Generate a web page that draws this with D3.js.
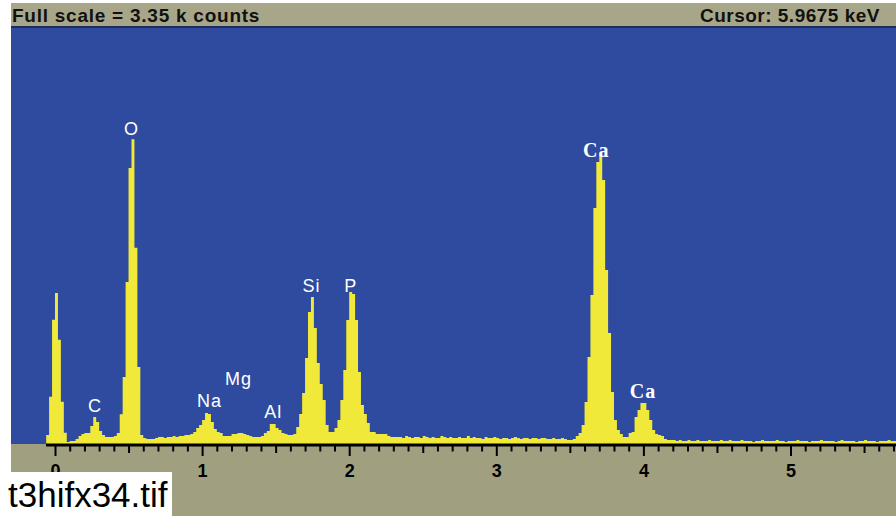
<!DOCTYPE html>
<html>
<head>
<meta charset="utf-8">
<script src="https://cdn.jsdelivr.net/npm/d3@7"></script>
<style>
  html, body { margin: 0; padding: 0; background: #fff; }
  svg { display: block; }
</style>
</head>
<body>
<svg id="chart"></svg>
<script>
// header / footer texts
const fullScaleText = 'Full scale = 3.35 k counts'
const cursorText = 'Cursor: 5.9675 keV'
const fileLabel = 't3hifx34.tif'
const fullScaleCounts = 3350

// spectrum: one value per 0.02 keV channel, starting at -0.30 keV
const channelStartKeV = -0.30
const channelWidthKeV = 0.02
const counts = [
  0, 0, 0, 0, 0, 0, 0, 0, 0, 0,
  0, 0, 72, 380, 1000, 1215, 840, 340, 90, 16,
  24, 24, 40, 64, 80, 88, 88, 145, 217, 177,
  105, 72, 56, 56, 56, 64, 88, 240, 540, 1305,
  2222, 2455, 1580, 620, 72, 48, 40, 40, 40, 48,
  56, 56, 48, 56, 56, 64, 56, 64, 64, 72,
  72, 80, 97, 129, 153, 193, 250, 242, 177, 121,
  97, 89, 64, 64, 64, 80, 80, 89, 89, 80,
  72, 64, 56, 56, 56, 64, 89, 105, 161, 161,
  129, 113, 89, 80, 72, 72, 80, 137, 242, 411,
  693, 1063, 1184, 934, 652, 483, 354, 153, 97, 97,
  129, 193, 354, 596, 999, 1224, 1208, 999, 580, 314,
  242, 169, 97, 97, 80, 80, 80, 80, 64, 56,
  56, 56, 56, 48, 64, 56, 48, 56, 56, 48,
  64, 56, 48, 56, 48, 48, 64, 56, 48, 56,
  48, 48, 56, 48, 48, 64, 48, 56, 48, 48,
  40, 56, 48, 48, 56, 48, 40, 48, 48, 40,
  48, 56, 48, 40, 48, 48, 40, 48, 48, 40,
  48, 48, 40, 40, 48, 40, 40, 48, 40, 32,
  32, 40, 64, 89, 153, 338, 700, 1200, 1900, 2271,
  2327, 2126, 1401, 894, 419, 193, 113, 80, 56, 56,
  89, 97, 217, 274, 330, 330, 274, 193, 113, 80,
  72, 64, 40, 32, 32, 32, 24, 32, 24, 24,
  32, 24, 24, 32, 24, 24, 24, 32, 24, 24,
  24, 32, 24, 24, 32, 24, 24, 24, 32, 24,
  24, 24, 16, 24, 24, 32, 24, 24, 24, 24,
  32, 24, 24, 16, 24, 24, 24, 32, 24, 24,
  24, 16, 24, 24, 24, 32, 24, 24, 24, 24,
  16, 24, 32, 24, 24, 24, 24, 16, 24, 24,
  32, 24, 24, 24, 16, 24, 24, 24, 32, 24,
  24, 16, 24, 24
]

// peak labels
const peakElements = ['O', 'C', 'Na', 'Mg', 'Al', 'Si', 'P', 'Ca', 'Ca']
const peakKeV = [0.52, 0.272, 1.051, 1.247, 1.483, 1.744, 2.01, 3.68, 3.997]
const peakLabelCounts = [2488, 260, 298, 475, 207, 1226, 1226, 2314, 368]

// axis
const axisLabels = ['0', '1', '2', '3', '4', '5']
const tickKeV = d3.range(0, 58).map(i => i / 10)

const width = 896
const height = 516
const left = 11
const plotTop = 28
const axisY = 444
const sans = "'Liberation Sans', Arial, sans-serif"

const svg = d3.select('#chart')
  .attr('width', width)
  .attr('height', height)
  .attr('viewBox', `0 0 ${width} ${height}`)

const x = d3.scaleLinear().domain([0, 5]).range([55, 790.5])
const y = d3.scaleLinear().domain([0, fullScaleCounts]).range([axisY, plotTop])

svg.append('rect')
  .attr('width', width).attr('height', height)
  .attr('fill', '#ffffff')

// header bar
svg.append('rect')
  .attr('x', left).attr('y', 3)
  .attr('width', width - left).attr('height', 24)
  .attr('fill', '#a8a688')
svg.append('rect')
  .attr('x', left).attr('y', 26)
  .attr('width', width - left).attr('height', 2)
  .attr('fill', '#1e2b5c')

svg.append('text')
  .attr('x', 12).attr('y', 22)
  .attr('font-family', sans).attr('font-size', '19px').attr('font-weight', 'bold')
  .attr('letter-spacing', '0.75px')
  .attr('fill', '#111')
  .text(fullScaleText)

svg.append('text')
  .attr('x', 880).attr('y', 22)
  .attr('text-anchor', 'end')
  .attr('font-family', sans).attr('font-size', '19px').attr('font-weight', 'bold')
  .attr('letter-spacing', '0.5px')
  .attr('fill', '#111')
  .text(cursorText)

// plot area
svg.append('rect')
  .attr('x', left).attr('y', plotTop)
  .attr('width', width - left).attr('height', axisY - plotTop)
  .attr('fill', '#2e4b9f')

svg.append('rect')
  .attr('x', left).attr('y', axisY)
  .attr('width', width - left).attr('height', height - axisY)
  .attr('fill', '#a09f80')

svg.append('clipPath').attr('id', 'plotClip')
  .append('rect')
  .attr('x', left).attr('y', plotTop)
  .attr('width', width - left).attr('height', axisY - plotTop)

const spectrum = counts.map((c, i) => ({ e: channelStartKeV + i * channelWidthKeV, c: c }))
spectrum.push({ e: channelStartKeV + counts.length * channelWidthKeV, c: counts[counts.length - 1] })

const area = d3.area()
  .x(d => x(d.e))
  .y0(y(0))
  .y1(d => y(d.c))
  .curve(d3.curveStepAfter)

svg.append('path')
  .datum(spectrum)
  .attr('clip-path', 'url(#plotClip)')
  .attr('d', area)
  .attr('fill', '#f1e93a')

// peak labels
svg.append('g')
  .selectAll('text')
  .data(peakElements)
  .join('text')
  .attr('x', (d, i) => x(peakKeV[i]))
  .attr('y', (d, i) => y(peakLabelCounts[i]))
  .attr('text-anchor', 'middle')
  .attr('fill', '#ffffff')
  .attr('font-family', d => d === 'Ca' ? "'Liberation Serif', 'Times New Roman', serif" : sans)
  .attr('font-weight', d => d === 'Ca' ? 'bold' : 'normal')
  .attr('font-size', d => d === 'Ca' ? '20px' : '18px')
  .attr('letter-spacing', '1px')
  .text(d => d)

// energy axis
const isMajor = d => Math.abs(d - Math.round(d)) < 1e-6
const isHalf = d => Math.round(d * 10) % 10 === 5

const axis = svg.append('g')
  .attr('transform', `translate(0,${axisY})`)
  .call(d3.axisBottom(x)
    .tickValues(tickKeV)
    .tickSizeOuter(0)
    .tickFormat(d => isMajor(d) ? axisLabels[Math.round(d)] : ''))

axis.select('.domain').remove()
axis.selectAll('.tick line')
  .attr('stroke', '#000')
  .attr('stroke-width', 2)
  .attr('y2', d => isMajor(d) ? 12 : isHalf(d) ? 9 : 7.5)
axis.selectAll('.tick text')
  .attr('y', 33)
  .attr('dy', 0)
  .attr('fill', '#000')
  .attr('font-family', sans)
  .attr('font-size', '18px')
  .attr('font-weight', 'bold')

svg.append('rect')
  .attr('x', 46).attr('y', axisY - 0.5)
  .attr('width', width - 46).attr('height', 3)
  .attr('fill', '#000')

// file name tag
svg.append('rect')
  .attr('x', 0).attr('y', 472)
  .attr('width', 172).attr('height', height - 472)
  .attr('fill', '#ffffff')

svg.append('text')
  .attr('x', 8).attr('y', 507)
  .attr('font-family', sans)
  .attr('font-size', '35px')
  .attr('fill', '#000')
  .text(fileLabel)
</script>
</body>
</html>
